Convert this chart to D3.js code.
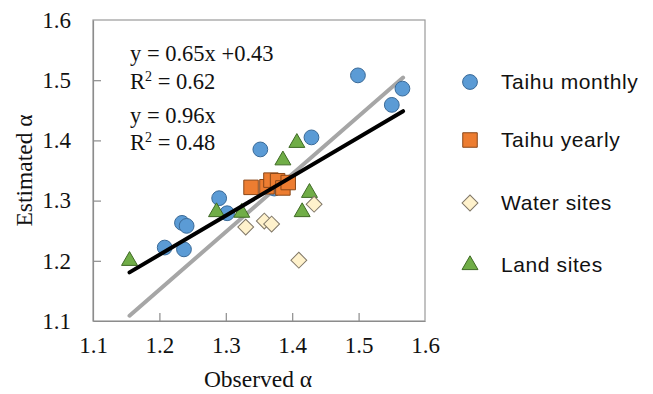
<!DOCTYPE html>
<html>
<head>
<meta charset="utf-8">
<script src="https://cdn.jsdelivr.net/npm/d3@7/dist/d3.min.js"></script>
<style>
  html, body { margin: 0; padding: 0; background: #fff; }
  svg { display: block; }
</style>
</head>
<body>
<svg id="chart" width="653" height="394"></svg>
<script>
// Observed vs estimated alpha, four data groups
const taihuMonthly = [
  [1.499, 1.508], [1.566, 1.486], [1.550, 1.459], [1.429, 1.405],
  [1.352, 1.385], [1.290, 1.304], [1.302, 1.279], [1.234, 1.263],
  [1.241, 1.258], [1.208, 1.222], [1.237, 1.219], [1.373, 1.320]
];
const taihuYearly = [
  [1.338, 1.322], [1.362, 1.323], [1.368, 1.334], [1.378, 1.333],
  [1.386, 1.321], [1.394, 1.330]
];
const waterSites = [
  [1.330, 1.256], [1.358, 1.266], [1.369, 1.261], [1.433, 1.294],
  [1.410, 1.201]
];
const landSites = [
  [1.155, 1.200], [1.286, 1.281], [1.324, 1.280], [1.426, 1.313],
  [1.415, 1.281], [1.386, 1.367], [1.407, 1.396]
];
const seriesNames = ["Taihu monthly", "Taihu yearly", "Water sites", "Land sites"];

// Fitted lines: linear fit and through-origin fit
const fitLinear = { slope: 0.65, intercept: 0.43, r2: 0.62 };
const fitOrigin = { slope: 0.96, intercept: 0, r2: 0.48 };
const fitRange = [1.155, 1.567];

const xTicks = [1.1, 1.2, 1.3, 1.4, 1.5, 1.6];
const yTicks = [1.1, 1.2, 1.3, 1.4, 1.5, 1.6];

const svg = d3.select("#chart");
const plot = { left: 93, right: 425, top: 20, bottom: 321 };

const x = d3.scaleLinear().domain([1.1, 1.6]).range([plot.left, plot.right]);
const y = d3.scaleLinear().domain([1.1, 1.6]).range([plot.bottom, plot.top]);

const serif = "'Liberation Serif', 'Times New Roman', serif";
const sans = "'Liberation Sans', Arial, sans-serif";

// Plot frame
svg.append("rect")
  .attr("x", plot.left).attr("y", plot.top)
  .attr("width", plot.right - plot.left).attr("height", plot.bottom - plot.top)
  .attr("fill", "none").attr("stroke", "#9a9a9a").attr("stroke-width", 1.2);

// Axes with inward ticks
const xAxis = svg.append("g")
  .attr("transform", `translate(0,${plot.bottom})`)
  .call(d3.axisBottom(x).tickValues(xTicks).tickFormat(d3.format(".1f"))
    .tickSizeInner(-8).tickSizeOuter(0).tickPadding(16));
const yAxis = svg.append("g")
  .attr("transform", `translate(${plot.left},0)`)
  .call(d3.axisLeft(y).tickValues(yTicks).tickFormat(d3.format(".1f"))
    .tickSizeInner(-8).tickSizeOuter(0).tickPadding(22));

[xAxis, yAxis].forEach(g => {
  g.select(".domain").attr("stroke", "#8c8c8c").attr("stroke-width", 1.2);
  g.selectAll(".tick line").attr("stroke", "#8c8c8c").attr("stroke-width", 1.2);
  g.selectAll(".tick text")
    .attr("font-family", serif).attr("font-size", 23).attr("fill", "#111");
});
// hide tick marks at the frame corners
xAxis.selectAll(".tick line").filter(d => d === 1.1 || d === 1.6).remove();
yAxis.selectAll(".tick line").filter(d => d === 1.1 || d === 1.6).remove();

// Axis titles
svg.append("text")
  .attr("x", 258).attr("y", 387)
  .attr("text-anchor", "middle")
  .attr("font-family", serif).attr("font-size", 23.5).attr("fill", "#111")
  .text("Observed α");
svg.append("text")
  .attr("transform", `translate(32,${(plot.top + plot.bottom) / 2}) rotate(-90)`)
  .attr("text-anchor", "middle")
  .attr("font-family", serif).attr("font-size", 23.5).attr("fill", "#111")
  .text("Estimated α");

// Fit lines
const lineGen = d3.line().x(d => x(d[0])).y(d => y(d[1]));
const fitPoints = f => fitRange.map(v => [v, f.slope * v + f.intercept]);

svg.append("path")
  .datum(fitPoints(fitOrigin))
  .attr("d", lineGen)
  .attr("stroke", "#a6a6a6").attr("stroke-width", 4)
  .attr("stroke-linecap", "round").attr("fill", "none");

// Marker shapes
const symbols = {
  circle: d3.symbol().type(d3.symbolCircle).size(Math.PI * 7.4 * 7.4),
  square: d3.symbol().type(d3.symbolSquare).size(14.5 * 14.5),
  diamond: d3.symbol().type(d3.symbolSquare).size(11.2 * 11.2),
  triangle: d3.symbol().type(d3.symbolTriangle).size(110)
};

const styles = [
  { data: taihuMonthly, sym: "circle", fill: "#5B9BD5", stroke: "#3A6A98", rot: 0 },
  { data: taihuYearly, sym: "square", fill: "#ED7D31", stroke: "#8A4718", rot: 0 },
  { data: waterSites, sym: "diamond", fill: "#FFF2CC", stroke: "#7F7666", rot: 45 },
  { data: landSites, sym: "triangle", fill: "#70AD47", stroke: "#3F6A25", rot: 0 }
];

// Draw order: monthly, land, water, yearly (yearly squares sit on top of monthly)
const drawOrder = [0, 3, 2, 1];
drawOrder.forEach(i => {
  const s = styles[i];
  svg.append("g").selectAll("path")
    .data(s.data)
    .join("path")
    .attr("d", symbols[s.sym])
    .attr("transform", d => `translate(${x(d[0])},${y(d[1])}) rotate(${s.rot})`)
    .attr("fill", s.fill).attr("stroke", s.stroke).attr("stroke-width", 1);
});

svg.append("path")
  .datum(fitPoints(fitLinear))
  .attr("d", lineGen)
  .attr("stroke", "#000").attr("stroke-width", 4)
  .attr("stroke-linecap", "round").attr("fill", "none");

// Equation annotations
const eq = svg.append("g")
  .attr("font-family", serif).attr("font-size", 22.5).attr("fill", "#111");
const fmt = d3.format(".2f");
eq.append("text").attr("x", 130).attr("y", 61)
  .text(`y = ${fmt(fitLinear.slope)}x +${fmt(fitLinear.intercept)}`);
const r1 = eq.append("text").attr("x", 130).attr("y", 89);
r1.append("tspan").text("R");
r1.append("tspan").attr("font-size", 14).attr("dy", -8).text("2");
r1.append("tspan").attr("dy", 8).text(` = ${fmt(fitLinear.r2)}`);
eq.append("text").attr("x", 130).attr("y", 123)
  .text(`y = ${fmt(fitOrigin.slope)}x`);
const r2 = eq.append("text").attr("x", 130).attr("y", 150);
r2.append("tspan").text("R");
r2.append("tspan").attr("font-size", 14).attr("dy", -8).text("2");
r2.append("tspan").attr("dy", 8).text(` = ${fmt(fitOrigin.r2)}`);

// Legend
const legendY = [82, 140, 203, 265];
const legend = svg.append("g");
styles.forEach((s, i) => {
  legend.append("path")
    .attr("d", symbols[s.sym])
    .attr("transform", `translate(470,${legendY[i]}) rotate(${s.rot})`)
    .attr("fill", s.fill).attr("stroke", s.stroke).attr("stroke-width", 1);
  legend.append("text")
    .attr("x", 501).attr("y", legendY[i])
    .attr("dy", "0.35em")
    .attr("font-family", sans).attr("font-size", 21).attr("fill", "#111")
    .attr("letter-spacing", 0.6)
    .text(seriesNames[i]);
});
</script>
</body>
</html>
